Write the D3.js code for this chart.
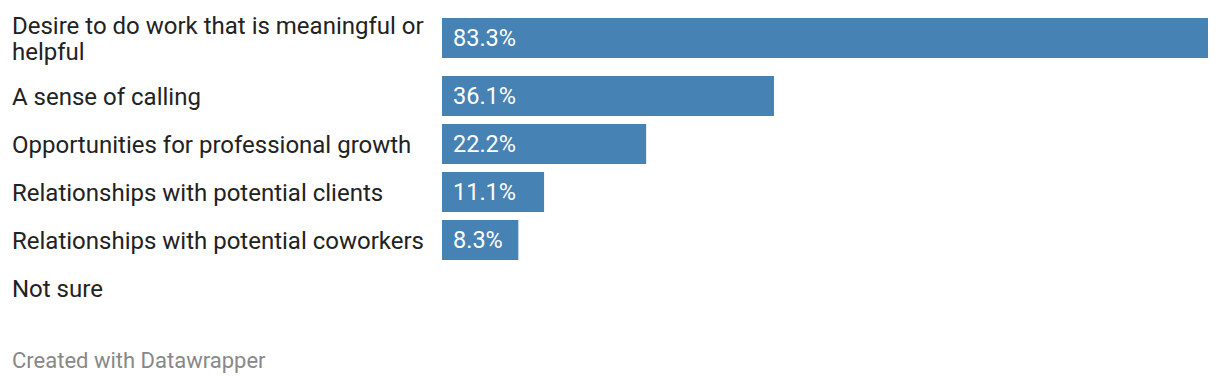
<!DOCTYPE html>
<html>
<head>
<meta charset="utf-8">
<script src="https://cdn.jsdelivr.net/npm/d3@7"></script>
<style>
  html, body { margin: 0; padding: 0; background: #fff; }
  svg { display: block; font-family: Roboto, sans-serif; }
</style>
</head>
<body>
<div id="chart"></div>
<script>
// Daten
const categories = [
  "Desire to do work that is meaningful or helpful",
  "A sense of calling",
  "Opportunities for professional growth",
  "Relationships with potential clients",
  "Relationships with potential coworkers",
  "Not sure"
];
const values = [83.3, 36.1, 22.2, 11.1, 8.3, 0];
// Zeilenumbrüche wie im Original
const labelLines = [
  ["Desire to do work that is meaningful or", "helpful"],
  ["A sense of calling"],
  ["Opportunities for professional growth"],
  ["Relationships with potential clients"],
  ["Relationships with potential coworkers"],
  ["Not sure"]
];
const footerText = "Created with Datawrapper";

const width = 1220, height = 384;
const barLeft = 442, barRight = 1208;
const rowStep = 48, barH = 40, chartTop = 14, extraFirst = 10;

const svg = d3.select("#chart").append("svg")
  .attr("width", width)
  .attr("height", height);

const x = d3.scaleLinear()
  .domain([0, d3.max(values)])
  .range([barLeft, barRight]);

const pad = (rowStep - barH) / rowStep;
const y = d3.scaleBand()
  .domain(categories)
  .range([0, categories.length * rowStep])
  .paddingInner(pad)
  .paddingOuter(pad / 2);

// Erste Zeile hat zwei Textzeilen -> alles darunter etwas tiefer
const rowTop = (d, i) => chartTop + y(d) + (i > 0 ? extraFirst : 0);
const rowMid = (d, i) => rowTop(d, i) + y.bandwidth() / 2;

const rows = svg.selectAll(".row")
  .data(categories)
  .enter().append("g")
    .attr("class", "row");

rows.append("rect")
  .attr("x", x(0))
  .attr("y", (d, i) => rowTop(d, i))
  .attr("width", (d, i) => Math.max(0, x(values[i]) - x(0)))
  .attr("height", y.bandwidth())
  .attr("fill", "#4682b4")
  .attr("display", (d, i) => values[i] > 0 ? null : "none");

rows.append("text")
  .attr("x", x(0) + 11)
  .attr("y", (d, i) => rowMid(d, i) + 8)
  .attr("fill", "#fff")
  .style("font-size", "23.5px")
  .text((d, i) => values[i] > 0 ? values[i].toFixed(1) + "%" : "");

const lineH = 26;
rows.append("text")
  .attr("x", 12)
  .attr("fill", "#222")
  .style("font-size", "24px")
  .each(function(d, i) {
    const lines = labelLines[i];
    const y0 = rowMid(d, i) + 8.5 - (lines.length - 1) * lineH / 2;
    d3.select(this).selectAll("tspan")
      .data(lines)
      .enter().append("tspan")
        .attr("x", 12)
        .attr("y", (l, j) => y0 + j * lineH)
        .text(l => l);
  });

svg.append("text")
  .attr("x", 12)
  .attr("y", 368)
  .attr("fill", "#888")
  .style("font-size", "22px")
  .text(footerText);
</script>
</body>
</html>
